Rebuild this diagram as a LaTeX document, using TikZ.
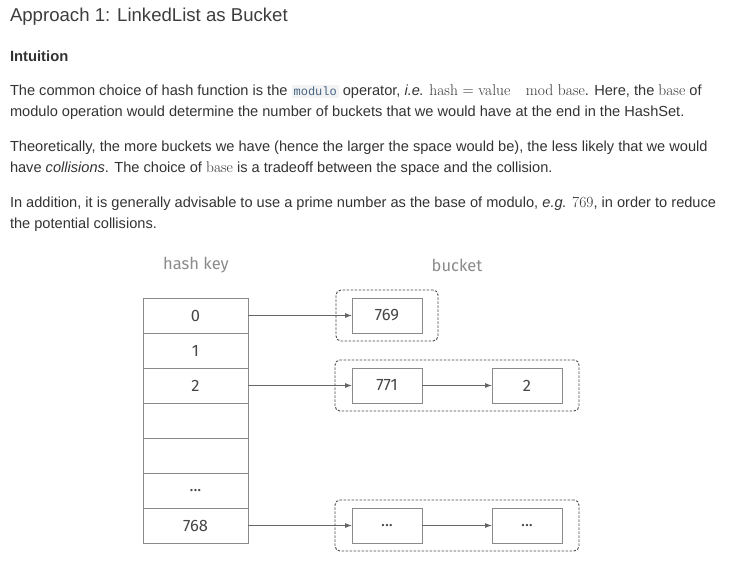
\documentclass[tikz,border=0pt]{standalone}
\usepackage{fontspec}
\setmainfont{Liberation Sans}
\setmonofont{Liberation Mono}
\newfontfamily\handfont{Fira Sans}
\newfontfamily\lmr{Latin Modern Roman}
\usetikzlibrary{arrows.meta,positioning,fit,shadows}

\definecolor{ink}{HTML}{333333}
\definecolor{codebg}{HTML}{F1F3F5}
\definecolor{codefg}{HTML}{476582}
\definecolor{lines}{HTML}{8A8A8A}
\newcommand{\codeword}[1]{{\setlength{\fboxsep}{2pt}\colorbox{codebg}{\ttfamily\color{codefg}\fontsize{12}{14}\selectfont #1}}}
\newcommand{\mw}[1]{{\lmr\fontsize{15.5}{21}\selectfont #1}}

\begin{document}
\begin{tikzpicture}[x=1pt,y=-1pt,
                    every node/.style={inner sep=0pt,outer sep=0pt},
                    para/.style={anchor=north west,align=left,text=ink,
                                 font=\fontsize{14.6}{21}\selectfont},
                    cell/.style={draw=lines,line width=0.8pt,fill=white,minimum width=105pt,minimum height=35pt,
                                 font=\handfont\fontsize{16.5}{18}\selectfont,text=ink!90,
                                 drop shadow={opacity=0.12,shadow xshift=1pt,shadow yshift=-1pt}},
                    item/.style={cell,minimum width=70pt},
                    group/.style={draw=ink!90,line width=0.9pt,dash pattern=on 2.5pt off 1.5pt,
                                  rounded corners=5pt,inner xsep=16pt,inner ysep=8pt},
                    head/.style={text=lines,font=\handfont\fontsize{16.5}{18}\selectfont},
                    every edge/.style={draw=ink!75,line width=0.8pt,<-,>={Latex[length=7pt,width=5pt]}}]
\useasboundingbox (0,0) rectangle (751,567);

% text above the figure
\node[anchor=west,text=ink!95,font=\fontsize{18.6}{22}\selectfont] (title) at (10,17) {Approach 1: LinkedList as Bucket};
\node[anchor=west,text=ink,font=\bfseries\fontsize{14.8}{16}\selectfont] (intu) at (10,56) {Intuition};
\node[para] (p1) at (10,85) {The common choice of hash function is the \codeword{modulo} operator, \textit{i.e.} \mw{hash = value\quad mod base}. Here, the \mw{base} of\\
modulo operation would determine the number of buckets that we would have at the end in the HashSet.};
\node[para] (p2) at (10,141) {Theoretically, the more buckets we have (hence the larger the space would be), the less likely that we would\\
have \textit{collisions}. The choice of \mw{base} is a tradeoff between the space and the collision.};
\node[para] (p3) at (10,197) {In addition, it is generally advisable to use a prime number as the base of modulo, \textit{e.g.} \mw{769}, in order to reduce\\
the potential collisions.};

% hash keys
\node[head] (hk) at (196,265) {hash key};
\node[head] (bk) at (457,265) {bucket};
\node[cell] (k0) at (195.5,315.5) {0};
\node[cell,below=0pt of k0] (k1) {1};
\node[cell,below=0pt of k1] (k2) {2};
\node[cell,below=0pt of k2] (k3) {};
\node[cell,below=0pt of k3] (k4) {};
\node[cell,below=0pt of k4] (k5) {...};
\node[cell,below=0pt of k5] (k6) {768};

% buckets
\node[item,right=104pt of k0] (b0) {769} edge (k0);
\node[item,right=104pt of k2] (b2) {771} edge (k2);
\node[item,right=70pt of b2] (c2) {2} edge (b2);
\node[item,right=104pt of k6] (b6) {...} edge (k6);
\node[item,right=70pt of b6] (c6) {...} edge (b6);

\node[group,fit=(b0)] (g0) {};
\node[group,fit=(b2)(c2),inner xsep=17pt] (g2) {};
\node[group,fit=(b6)(c6),inner xsep=17pt] (g6) {};

\end{tikzpicture}
\end{document}
